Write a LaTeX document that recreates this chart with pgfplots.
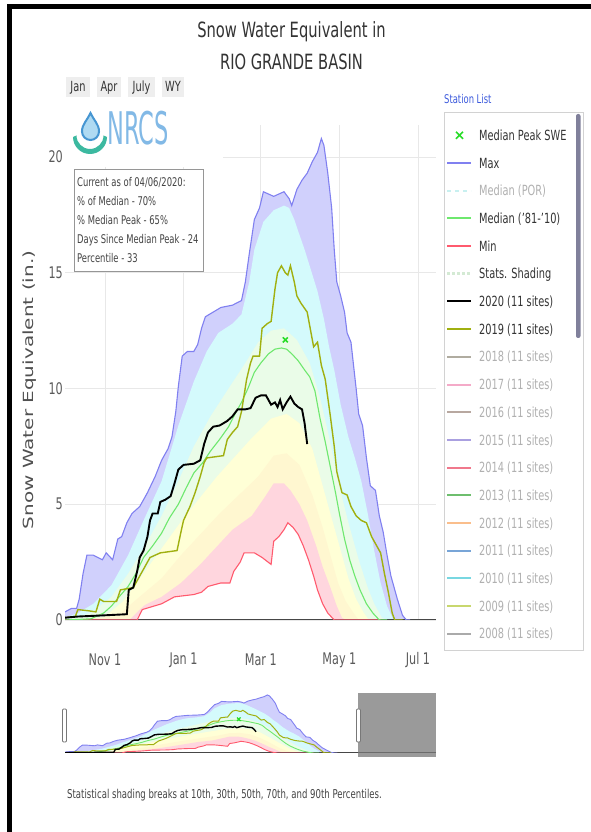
\documentclass[border=0pt]{standalone}
\usepackage{pgfplots}
\pgfplotsset{compat=1.18}
\usepackage{pgfplotstable}
\usepackage{graphicx}
\usepackage{fontspec}
\setmainfont{DejaVu Sans}[FakeStretch=0.7]
\newfontfamily\plainf{DejaVu Sans}

\definecolor{cMax}{RGB}{128,128,240}
\definecolor{fMax}{RGB}{208,208,252}
\definecolor{f90}{RGB}{212,250,252}
\definecolor{f70}{RGB}{234,252,232}
\definecolor{f50}{RGB}{255,255,214}
\definecolor{f30}{RGB}{255,247,208}
\definecolor{f10}{RGB}{255,214,222}
\definecolor{cMed}{RGB}{110,232,110}
\definecolor{cMin}{RGB}{255,90,110}
\definecolor{c2019}{RGB}{160,176,16}
\definecolor{cPk}{RGB}{40,220,40}
\definecolor{txt}{RGB}{51,51,51}
\definecolor{tickc}{RGB}{90,90,90}
\definecolor{inact}{RGB}{176,176,176}
\definecolor{gridc}{RGB}{232,232,232}
\definecolor{basec}{RGB}{70,70,70}
\definecolor{btn}{RGB}{238,238,238}
\definecolor{scrollc}{RGB}{128,128,155}
\definecolor{maskc}{RGB}{120,120,120}
\definecolor{boxc}{RGB}{150,150,150}
\definecolor{legbox}{RGB}{210,210,210}
\definecolor{bodyt}{RGB}{68,68,68}
\definecolor{ylab}{RGB}{80,80,80}
\definecolor{stat}{RGB}{60,90,220}
\definecolor{dropd}{RGB}{70,150,210}
\definecolor{dropf}{RGB}{175,218,242}
\definecolor{smile}{RGB}{60,185,160}
\definecolor{nrcs}{RGB}{130,185,230}
\definecolor{lPOR}{RGB}{200,240,240}
\definecolor{lSS}{RGB}{212,234,212}
\definecolor{lA}{RGB}{176,172,160}
\definecolor{lB}{RGB}{244,170,200}
\definecolor{lC}{RGB}{184,168,160}
\definecolor{lD}{RGB}{170,160,224}
\definecolor{lE}{RGB}{240,120,140}
\definecolor{lF}{RGB}{110,190,110}
\definecolor{lG}{RGB}{250,190,140}
\definecolor{lH}{RGB}{120,165,215}
\definecolor{lI}{RGB}{120,215,225}
\definecolor{lJ}{RGB}{200,215,110}
\definecolor{lK}{RGB}{170,170,170}

\pgfplotstableread{
d v
0 0.35
5 0.5
9 0.5
11 0.9
14 2.0
17 2.8
22 2.8
29 2.6
32 2.9
37 2.6
41 3.5
44 3.6
48 4.2
52 4.6
58 4.9
64 5.5
70 6.2
75 6.9
80 7.4
83 7.9
86 9.0
88 10.1
91 11.4
95 11.6
100 11.6
103 11.9
106 12.6
109 13.1
115 13.3
121 13.5
130 13.6
137 13.8
140 14.6
143 15.8
147 17.3
151 17.8
154 18.5
158 18.4
162 18.3
166 18.4
170 18.5
174 18.2
176 17.9
180 18.6
184 19.0
188 19.3
192 19.8
196 20.2
199 20.8
201 20.5
204 19.3
207 17.8
209 16.0
211 14.6
214 14.0
217 13.3
219 12.4
222 12.0
226 10.0
228 8.9
231 8.4
234 7.0
237 5.8
241 5.6
244 4.5
247 3.8
250 2.8
253 1.9
258 0.9
262 0.2
265 0
268 0
365 0
}\tMax

\pgfplotstableread{
d v
0 0.1
10 0.3
22 0.7
36 1.5
49 2.8
61 4.3
75 6.0
88 8.4
100 10.3
110 11.6
119 12.4
130 12.8
137 13.2
143 14.6
147 16.0
154 17.2
162 17.7
170 17.9
174 17.8
178 17.3
181 16.8
186 16.0
191 15.1
196 14.2
201 13.0
205 11.8
209 10.8
214 9.3
220 7.9
225 7.0
230 6.0
235 4.6
240 3.0
245 1.6
250 0.6
255 0
365 0
}\tP

\pgfplotstableread{
d v
0 0
20 0.3
36 1.0
49 2.0
61 3.1
75 4.5
88 6.0
100 7.5
113 8.8
127 10.0
140 11.1
150 12.0
160 12.5
170 12.6
180 12.1
190 11.1
198 9.6
205 7.9
212 6.0
220 4.2
228 2.6
235 1.4
240 0.7
246 0.1
250 0
365 0
}\tPs

\pgfplotstableread{
d v
0 0
30 0.1
45 0.8
66 2.4
92 4.4
118 6.2
144 7.8
160 8.7
172 8.9
182 8.5
192 7.4
201 5.6
210 3.8
214 3.0
220 1.8
226 0.9
232 0.3
236 0
365 0
}\tPf

\pgfplotstableread{
d v
0 0
40 0.15
60 1.1
75 1.8
90 2.8
105 3.7
120 4.6
135 5.4
150 6.2
162 7.1
172 7.2
182 6.7
192 5.4
200 4.0
206 2.8
212 1.6
218 0.8
224 0.3
228 0
365 0
}\tPt

\pgfplotstableread{
d v
0 0
50 0
58 0.45
62 0.65
75 1.0
90 1.6
105 2.4
120 3.3
130 3.9
145 4.5
155 5.3
162 5.9
170 5.9
175 5.6
182 5.0
188 4.3
195 3.2
200 2.3
206 1.4
211 0.6
215 0.1
218 0
365 0
}\tPo

\pgfplotstableread{
d v
0 0
56 0
60 0.45
66 0.55
75 0.7
85 1.0
100 1.1
106 1.2
111 1.45
121 1.6
128 1.6
131 2.1
136 2.5
139 2.9
147 2.9
153 2.7
160 2.4
162 3.4
166 3.6
170 3.9
173 4.2
177 4.0
181 3.7
185 3.2
189 2.6
193 1.9
196 1.3
200 0.7
204 0.3
209 0
245 0
365 0
}\tMin

\pgfplotstableread{
d v
0 0
20 0.05
30 0.3
36 0.6
42 1.0
49 1.45
55 2.0
61 2.7
68 3.2
75 3.75
81 4.4
88 5.0
94 5.7
100 6.35
107 6.8
113 7.3
120 7.8
127 8.35
132 8.9
137 9.4
142 10.0
147 10.7
152 11.1
158 11.5
163 11.7
168 11.75
172 11.7
176 11.5
181 11.2
186 10.8
190 10.5
194 9.9
198 8.7
202 7.7
206 6.6
210 5.5
213 4.6
217 3.5
221 2.6
225 1.9
229 1.3
234 0.7
239 0.3
244 0
250 0
365 0
}\tMed

\pgfplotstableread{
d v
0 0.1
10 0.15
30 0.2
48 0.25
49.5 1.3
53 1.4
56 2.1
58 2.7
61 3.0
64 3.6
66 4.3
68 4.6
72 4.6
74 5.1
78 5.2
82 5.35
85 5.9
88 6.5
92 6.7
100 6.75
105 6.9
108 7.6
111 8.1
115 8.35
120 8.4
126 8.6
130 8.8
134 9.1
140 9.1
144 9.15
148 9.6
152 9.7
156 9.7
160 9.3
163 9.4
165 9.2
167 9.5
169 9.1
172 9.4
175 9.65
178 9.35
181 9.2
184 9.1
186 8.5
188 7.6
}\tTw

\pgfplotstableread{
d v
0 0.1
8 0.15
10 0.45
18 0.4
24 0.35
27 0.9
30 0.8
40 0.8
43 1.3
53 1.4
57 1.8
62 2.3
66 2.7
74 2.9
87 3.0
90 3.8
92 4.3
97 4.9
101 5.5
105 6.2
108 6.8
110 7.0
123 7.1
126 7.8
130 8.1
134 8.35
137 9.0
141 10.4
144 11.1
146 11.4
151 11.4
153 12.6
157 12.8
160 12.9
163 14.3
165 15.0
168 15.3
171 15.0
173 14.9
175 15.3
178 14.6
180 14.0
183 13.7
188 13.3
191 12.4
193 11.8
196 12.0
199 11.0
202 10.4
206 8.8
209 7.5
211 6.4
215 5.5
219 5.4
222 4.9
226 4.5
230 4.3
234 4.2
238 3.6
242 3.2
245 2.9
248 2.0
251 1.2
254 0.3
256 0
262 0
365 0
}\tNt

\newcommand{\drawbands}{%
  \addplot[draw=none, fill=fMax] table[x=d,y=v]{\tMax} \closedcycle;
  \addplot[draw=none, fill=f90] table[x=d,y=v]{\tP} \closedcycle;
  \addplot[draw=none, fill=f70] table[x=d,y=v]{\tPs} \closedcycle;
  \addplot[draw=none, fill=f50] table[x=d,y=v]{\tPf} \closedcycle;
  \addplot[draw=none, fill=f30] table[x=d,y=v]{\tPt} \closedcycle;
  \addplot[draw=none, fill=f10] table[x=d,y=v]{\tPo} \closedcycle;
  \addplot[draw=none, fill=white] table[x=d,y=v]{\tMin} \closedcycle;
}

\begin{document}
\begin{tikzpicture}
\path[use as bounding box] (0pt,0pt) rectangle (591pt,832pt);

% ---------- main chart ----------
\begin{axis}[
  at={(65pt,212pt)}, anchor=south west, scale only axis,
  width=371pt, height=495.4pt,
  xmin=0, xmax=288, ymin=0, ymax=21.4,
  axis line style={draw=none}, tick style={draw=none},
  xtick={31,92,152,213,274}, xticklabels={Nov 1,Jan 1,Mar 1,May 1,Jul 1},
  ytick={0,5,10,15,20}, yticklabels={0,5,10,15,20},
  grid=major, major grid style={gridc, line width=0.8pt},
  xticklabel style={font=\fontsize{16}{18}\selectfont, text=tickc, anchor=center, yshift=-40pt},
  yticklabel style={font=\fontsize{16}{18}\selectfont, text=tickc, anchor=east, inner sep=0pt, xshift=-2pt},
]
\drawbands
\addplot[basec, line width=1.2pt] coordinates {(0,0) (288,0)};
\addplot[cMax, line width=1.1pt, restrict x to domain=0:269] table[x=d,y=v]{\tMax};
\addplot[cMin, line width=1.1pt, restrict x to domain=0:246] table[x=d,y=v]{\tMin};
\addplot[cMed, line width=1.1pt, restrict x to domain=0:251] table[x=d,y=v]{\tMed};
\addplot[c2019, line width=1.4pt, restrict x to domain=0:263] table[x=d,y=v]{\tNt};
\addplot[black, line width=1.9pt] table[x=d,y=v]{\tTw};
\addplot[only marks, mark=x, mark size=3.5pt, cPk, line width=1.6pt] coordinates {(171,12.1)};
\end{axis}

% ---------- navigator ----------
\begin{axis}[
  at={(65pt,79pt)}, anchor=south west, scale only axis,
  width=371pt, height=59.7pt,
  xmin=0, xmax=365, ymin=0, ymax=21.4,
  hide axis,
]
\drawbands
\addplot[basec, line width=2pt] coordinates {(0,0) (365,0)};
\addplot[cMax, line width=0.9pt, restrict x to domain=0:269] table[x=d,y=v]{\tMax};
\addplot[cMin, line width=0.9pt, restrict x to domain=0:246] table[x=d,y=v]{\tMin};
\addplot[cMed, line width=0.9pt, restrict x to domain=0:251] table[x=d,y=v]{\tMed};
\addplot[c2019, line width=1pt, restrict x to domain=0:263] table[x=d,y=v]{\tNt};
\addplot[black, line width=1.4pt] table[x=d,y=v]{\tTw};
\addplot[only marks, mark=x, mark size=2.5pt, cPk, line width=1.2pt] coordinates {(171,12.1)};
\end{axis}

% ---------- decorations in image coordinates ----------
\begin{scope}[x=1pt, y=-1pt, yshift=832pt]
% frame
\fill[black] (7,4) rectangle (591,9.5);
\fill[black] (7,4) rectangle (11.5,832);

% title
\node[anchor=base, text=txt, font=\fontsize{21}{24}\selectfont] at (291.5,37.7) {Snow Water Equivalent in};
\node[anchor=base, text=txt, font=\fontsize{21}{24}\selectfont] at (291.5,70) {RIO GRANDE BASIN};

% range buttons
\fill[btn] (66,77) rectangle (90,97);
\fill[btn] (97,77) rectangle (121,97);
\fill[btn] (128,77) rectangle (155,97);
\fill[btn] (162,77) rectangle (184,97);
\node[anchor=base, text=txt, font=\fontsize{14}{16}\selectfont] at (78,92) {Jan};
\node[anchor=base, text=txt, font=\fontsize{14}{16}\selectfont] at (109,92) {Apr};
\node[anchor=base, text=txt, font=\fontsize{14}{16}\selectfont] at (141.5,92) {July};
\node[anchor=base, text=txt, font=\fontsize{14}{16}\selectfont] at (173,92) {WY};

% logo area cover
\fill[white] (65,118) rectangle (223,167);
\draw[line width=2pt, draw=dropd, fill=dropf]
  (90.5,113) .. controls (87.5,120) and (82,124) .. (82,131.5) arc[start angle=180, end angle=0, radius=8.5] .. controls (99,124) and (93.5,120) .. (90.5,113) -- cycle;
\fill[smile] (73,137) arc[start angle=180, end angle=0, radius=17] -- (103.5,135.5) arc[start angle=0, end angle=180, radius=13.5] -- cycle;
\node[anchor=base west, inner sep=0pt, text=nrcs] at (107,145)
  {\scalebox{0.5}[1]{\plainf\fontsize{45}{45}\selectfont NRCS}};

% info box
\draw[fill=white, draw=boxc, line width=0.8pt] (74,169) rectangle (203,271);
\begin{scope}[every node/.style={anchor=base west, inner sep=0pt, text=bodyt, font=\fontsize{12}{14}\selectfont}]
\node at (77,187) {Current as of 04/06/2020:};
\node at (77,206) {\% of Median - 70\%};
\node at (77,225) {\% Median Peak - 65\%};
\node at (77,244) {Days Since Median Peak - 24};
\node at (77,263) {Percentile - 33};
\end{scope}

% y label
\node[rotate=90, text=ylab, inner sep=0pt] at (30,390)
  {\scalebox{1}[0.7]{\plainf\fontsize{20}{20}\selectfont Snow Water Equivalent (in.)}};

% legend
\node[anchor=base west, inner sep=0pt, text=stat, font=\fontsize{12}{14}\selectfont] at (444,104) {Station List};
\draw[fill=white, draw=legbox, line width=0.8pt] (444,112) rectangle (583,650);
\fill[scrollc, rounded corners=2pt] (576,114) rectangle (580.5,338);
\begin{scope}[every node/.style={anchor=base west, inner sep=0pt, font=\fontsize{14}{16}\selectfont}]
\draw[cPk, line width=1.6pt] (456,131.8) -- (463,138.8) (456,138.8) -- (463,131.8);
\node[text=txt] at (479,140.4) {Median Peak SWE};
\draw[cMax, line width=2pt] (447,163) -- (471,163);
\node[text=txt] at (479,168.1) {Max};
\draw[lPOR, line width=2pt, dash pattern=on 4pt off 4pt] (447,190.7) -- (471,190.7);
\node[text=inact] at (479,195.8) {Median (POR)};
\draw[cMed, line width=2pt] (447,218.4) -- (471,218.4);
\node[text=txt] at (479,223.5) {Median ('81-'10)};
\draw[cMin, line width=2pt] (447,246.1) -- (471,246.1);
\node[text=txt] at (479,251.2) {Min};
\draw[lSS, line width=3pt, dash pattern=on 3pt off 2pt] (447,273.8) -- (471,273.8);
\node[text=txt] at (479,278.9) {Stats. Shading};
\draw[black, line width=2pt] (447,301.5) -- (471,301.5);
\node[text=txt] at (479,306.6) {2020 (11 sites)};
\draw[c2019, line width=2pt] (447,329.2) -- (471,329.2);
\node[text=txt] at (479,334.3) {2019 (11 sites)};
\draw[lA, line width=2pt] (447,356.9) -- (471,356.9);
\node[text=inact] at (479,362) {2018 (11 sites)};
\draw[lB, line width=2pt] (447,384.6) -- (471,384.6);
\node[text=inact] at (479,389.7) {2017 (11 sites)};
\draw[lC, line width=2pt] (447,412.3) -- (471,412.3);
\node[text=inact] at (479,417.4) {2016 (11 sites)};
\draw[lD, line width=2pt] (447,440) -- (471,440);
\node[text=inact] at (479,445.1) {2015 (11 sites)};
\draw[lE, line width=2pt] (447,467.7) -- (471,467.7);
\node[text=inact] at (479,472.8) {2014 (11 sites)};
\draw[lF, line width=2pt] (447,495.4) -- (471,495.4);
\node[text=inact] at (479,500.5) {2013 (11 sites)};
\draw[lG, line width=2pt] (447,523.1) -- (471,523.1);
\node[text=inact] at (479,528.2) {2012 (11 sites)};
\draw[lH, line width=2pt] (447,550.8) -- (471,550.8);
\node[text=inact] at (479,555.9) {2011 (11 sites)};
\draw[lI, line width=2pt] (447,578.5) -- (471,578.5);
\node[text=inact] at (479,583.6) {2010 (11 sites)};
\draw[lJ, line width=2pt] (447,606.2) -- (471,606.2);
\node[text=inact] at (479,611.3) {2009 (11 sites)};
\draw[lK, line width=2pt] (447,633.9) -- (471,633.9);
\node[text=inact] at (479,639) {2008 (11 sites)};
\end{scope}

% navigator mask and handles
\fill[maskc, fill opacity=0.75] (358,693) rectangle (436,757);
\draw[maskc, fill=white, rounded corners=1pt, line width=0.8pt] (62.5,709) rectangle (66.5,742);
\draw[maskc, fill=white, rounded corners=1pt, line width=0.8pt] (356.5,709) rectangle (360.5,742);

% footer
\node[anchor=base west, inner sep=0pt, text=bodyt, font=\fontsize{12.2}{14}\selectfont] at (67,799)
  {Statistical shading breaks at 10th, 30th, 50th, 70th, and 90th Percentiles.};
\end{scope}
\end{tikzpicture}
\end{document}
